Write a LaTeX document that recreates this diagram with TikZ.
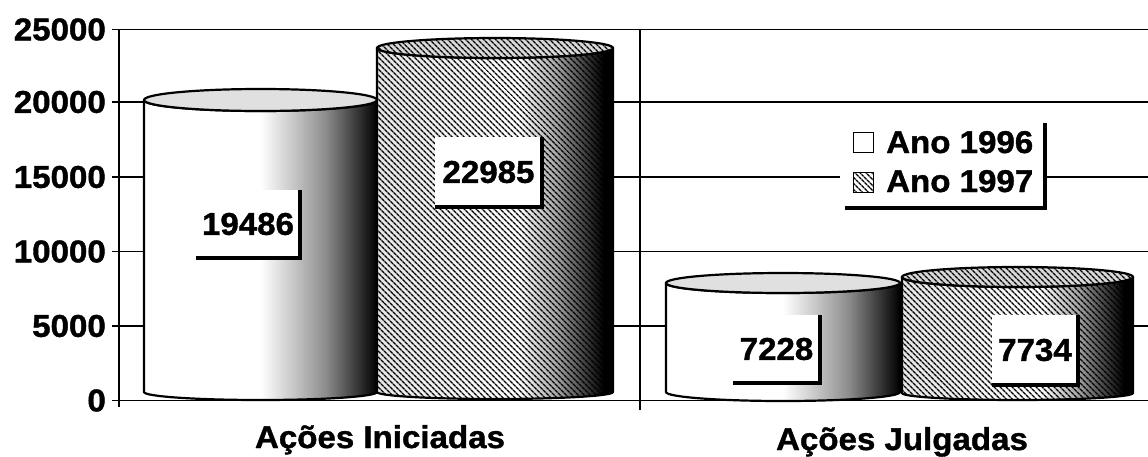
\documentclass[tikz,border=0pt]{standalone}
\usepackage{fontspec}
\newfontfamily\chartfont{Liberation Sans}[FakeStretch=1.05,FakeBold=1.2]
\usetikzlibrary{patterns.meta}
\pgfdeclarehorizontalshading{sixsix}{100bp}{color(0bp)=(white); color(25bp)=(white); color(50bp)=(white); color(57bp)=(black!22); color(64bp)=(black!45); color(69bp)=(black!70); color(73bp)=(black!90); color(75bp)=(black); color(100bp)=(black)}
\pgfdeclarehorizontalshading{sevsev}{100bp}{color(0bp)=(black!10); color(25bp)=(black!10); color(55bp)=(white); color(63bp)=(black!35); color(69bp)=(black!75); color(73bp)=(black); color(100bp)=(black)}
\tikzset{
  chart/.style={font=\chartfont\bfseries\fontsize{31.5}{34}\selectfont, inner sep=0pt},
  gridline/.style={line width=1.6pt},
  hatch/.style={pattern={Lines[angle=-45,distance=4pt,line width=1.4pt]}},
  sixbody/.style={shade, shading=sixsix, draw=black, line width=2.2pt, line join=round},
  sixtop/.style={fill=black!12, draw=black, line width=2.2pt},
  sevbody/.style={preaction={shade, shading=sevsev}, hatch, draw=black, line width=2.2pt, line join=round},
  sevtop/.style={preaction={fill=black!15}, hatch, draw=black, line width=2.2pt},
  valbox/.style={chart, fill=white},
  shadowline/.style={line width=3.5pt},
  legmark/.style={draw=black, line width=1pt, minimum size=20pt, inner sep=0pt},
}
\newcommand\drawcyl[7]{%
  \pgfmathsetmacro\cylcx{(#1+#2)/2}%
  \pgfmathsetmacro\cylrx{(#2-#1)/2}%
  \path[#7body] (#1,#3) -- (#1,#5) arc[start angle=180,end angle=0,x radius=\cylrx,y radius=#6] -- (#2,#3) arc[start angle=0,end angle=180,x radius=\cylrx,y radius=#4] -- cycle;
  \path[#7top] (\cylcx,#3) ellipse[x radius=\cylrx, y radius=#4];
}
\begin{document}
\begin{tikzpicture}[x=1pt,y=-1pt]
\useasboundingbox[fill=white] (0,0) rectangle (1148,456);
% grid lines and ticks
\foreach \yy/\lab in {29.5/25000, 102/20000, 177/15000, 251.5/10000, 326/5000, 400.5/0}{
  \draw[gridline] (112,\yy) -- (1148,\yy);
  \node[chart, anchor=east] at (106,\yy) {\lab};
}
% axes
\draw[gridline] (119,29.5) -- (119,407);
\draw[gridline] (640,29.5) -- (640,410);
% cylinders
\drawcyl{144}{377}{100}{11}{392}{8}{six}
\drawcyl{377}{613}{48}{10}{392}{7}{sev}
\drawcyl{666}{900}{283}{10}{392}{9}{six}
\drawcyl{902}{1133}{277}{10}{393}{7}{sev}
% value labels
\node[valbox, minimum width=104pt, minimum height=68pt] (v1) at (248,224) {19486};
\draw[shadowline] (v1.north east) -- (v1.south east) -- (v1.south west);
\node[valbox, minimum width=107pt, minimum height=70pt] (v2) at (488.5,172) {22985};
\draw[shadowline] (v2.north east) -- (v2.south east) -- (v2.south west);
\node[valbox, minimum width=87pt, minimum height=68pt] (v3) at (776.5,349) {7228};
\draw[shadowline] (v3.north east) -- (v3.south east) -- (v3.south west);
\node[valbox, minimum width=86pt, minimum height=70pt] (v4) at (1035,350) {7734};
\draw[shadowline] (v4.north east) -- (v4.south east) -- (v4.south west);
% legend
\node[fill=white, minimum width=205pt, minimum height=90pt, inner sep=0pt] (leg) at (942.5,163) {};
\draw[shadowline] ([yshift=-5pt]leg.north east) -- (leg.south east) -- ([xshift=5pt]leg.south west);
\node[legmark, fill=white] (m1) at (863,142) {};
\node[legmark, preaction={fill=white}, hatch] (m2) at (863,182) {};
\node[chart, anchor=base west] (l1) at (886,153) {Ano 1996};
\node[chart, anchor=base west] (l2) at (886,192) {Ano 1997};
% category labels
\node[chart, anchor=base] (c1) at (380,448) {Ações Iniciadas};
\node[chart, anchor=base] (c2) at (902,450) {Ações Julgadas};
\end{tikzpicture}
\end{document}
